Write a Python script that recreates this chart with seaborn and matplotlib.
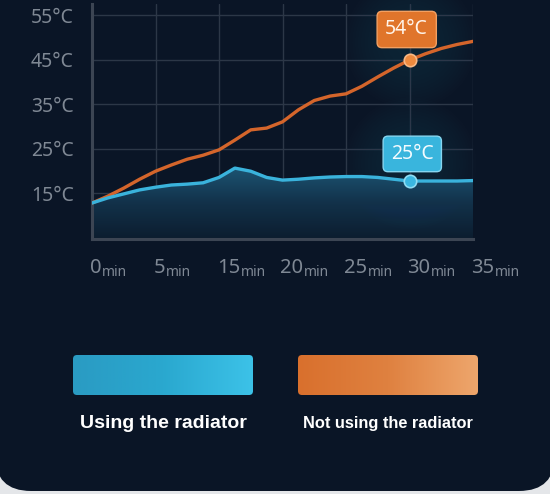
import numpy as np
import pandas as pd
import matplotlib
matplotlib.use("Agg")
import matplotlib.pyplot as plt
import seaborn as sns
from matplotlib.colors import LinearSegmentedColormap
from matplotlib.patches import FancyBboxPatch

# values (y in the chart's own axis units)
tick_labels = ["0", "5", "15", "20", "25", "30", "35"]
ytick_values = [15, 25, 35, 45, 55]
t = np.arange(25) / 4  # sample positions, in tick steps
not_using = [12.75, 14.3, 16.1, 18.1, 19.9, 21.3, 22.6, 23.5, 24.7, 26.9, 29.2, 29.6,
             31.0, 33.7, 35.8, 36.8, 37.3, 39.0, 41.1, 43.1, 44.9, 46.3, 47.5, 48.4, 49.1]
using = [12.75, 13.9, 14.8, 15.7, 16.3, 16.8, 17.0, 17.3, 18.5, 20.6, 19.9, 18.5,
         17.9, 18.1, 18.4, 18.6, 18.7, 18.7, 18.5, 18.1, 17.7, 17.7, 17.7, 17.7, 17.8]
callout_idx = 20  # the 30min point
callout_text = {"not": "54°C", "using": "25°C"}
legend_labels = ["Using the radiator", "Not using the radiator"]

BG = "#0a1526"
ORANGE = "#d4652b"
BLUE = "#3ab3dc"
GRID = "#2c3747"
TICK = "#7f8894"

sns.set_theme(style="dark")
plt.rcParams["font.family"] = ["Noto Sans", "DejaVu Sans"]

df = pd.DataFrame({"t": t, "not_using": not_using, "using": using})

fig = plt.figure(figsize=(5.5, 4.94), dpi=100)
fig.patch.set_facecolor("#e4e6e9")
card = FancyBboxPatch((-0.05, 0.03), 5.6, 6.0, boxstyle="round,pad=0,rounding_size=0.36",
                      transform=fig.dpi_scale_trans, fc=BG, ec="none", zorder=0)
fig.add_artist(card)

ax = fig.add_axes([92 / 550, 1 - 239 / 494, 381 / 550, 235 / 494])
ax.set_facecolor("none")
ylo, yhi = 4.66, 57.5

# gradient fill under the blue curve
cmap = LinearSegmentedColormap.from_list("fill", ["#0c1d2f", "#123149", "#1c5472"])
grad = ax.imshow(np.linspace(0, 1, 256).reshape(-1, 1), extent=[0, 6, ylo, max(using)],
                 origin="lower", aspect="auto", cmap=cmap, zorder=1)
area = ax.fill_between(df["t"], df["using"], ylo, color="none", lw=0)
grad.set_clip_path(area.get_paths()[0], transform=ax.transData)
ax.set_xlim(0, 6)
ax.set_ylim(ylo, yhi)

# soft glow behind the callouts
for y0 in (df["not_using"][callout_idx] + 4, df["using"][callout_idx] + 4):
    for s in np.linspace(9000, 500, 14):
        ax.scatter(callout_idx / 4, y0, s=s, color="#8aa8c8", alpha=0.009, lw=0, zorder=1,
                   clip_on=False)

sns.lineplot(data=df, x="t", y="not_using", ax=ax, color=ORANGE, lw=2.4, zorder=3,
             solid_joinstyle="round", solid_capstyle="round")
sns.lineplot(data=df, x="t", y="using", ax=ax, color=BLUE, lw=2.4, zorder=3,
             solid_joinstyle="round", solid_capstyle="round")

ax.scatter(df["t"][callout_idx], df["not_using"][callout_idx], s=80, color="#ee8a3e",
           edgecolor="#f8b784", lw=1.2, zorder=4)
ax.scatter(df["t"][callout_idx], df["using"][callout_idx], s=80, color="#3ab7e0",
           edgecolor="#8edcf3", lw=1.2, zorder=4)

ax.annotate(callout_text["not"], xy=(df["t"][callout_idx], df["not_using"][callout_idx]),
            xytext=(-2, 22), textcoords="offset points", ha="center", va="center",
            fontsize=14, color="#fff4ea", zorder=5,
            bbox=dict(boxstyle="round,pad=0.42,rounding_size=0.25", fc="#e0752b", ec="#f2a062", lw=1))
ax.annotate(callout_text["using"], xy=(df["t"][callout_idx], df["using"][callout_idx]),
            xytext=(2, 19.5), textcoords="offset points", ha="center", va="center",
            fontsize=14, color="#f2fbff", zorder=5,
            bbox=dict(boxstyle="round,pad=0.4,rounding_size=0.25", fc="#39b5dd", ec="#86d6f0", lw=1))

# axes styling
ax.set_xticks(range(len(tick_labels)))
ax.set_xticklabels([])
ax.set_yticks(ytick_values, labels=[f"{v}°C" for v in ytick_values])
ax.tick_params(axis="y", length=0, pad=13, labelsize=14, labelcolor=TICK)
ax.tick_params(axis="x", length=0)
ax.grid(True, color=GRID, lw=1)
ax.set_xlabel("")
ax.set_ylabel("")
for side in ("top", "right"):
    ax.spines[side].set_visible(False)
for side in ("left", "bottom"):
    ax.spines[side].set_visible(True)
    ax.spines[side].set_color("#3c4553")
    ax.spines[side].set_linewidth(2.2)

for i, lab in enumerate(tick_labels):
    num = ax.annotate(lab, xy=(i, 0), xycoords=("data", "axes fraction"), xytext=(-1.5, -24.5),
                      textcoords="offset points", ha="left", va="baseline", fontsize=14.5,
                      color=TICK, annotation_clip=False)
    ax.annotate("min", xy=(1, 0), xycoords=num, xytext=(0.5, -1.2), textcoords="offset points",
                ha="left", va="bottom", fontsize=10, color=TICK, annotation_clip=False)

# legend swatches
swatches = [(73, ["#2a9bc3", "#2aa8cf", "#3cc2e8"]), (298, ["#d9702d", "#df8140", "#eea66c"])]
for (x0, cols), lab in zip(swatches, legend_labels):
    lax = fig.add_axes([x0 / 550, 1 - 395 / 494, 180 / 550, 40 / 494])
    lax.set_axis_off()
    im = lax.imshow(np.linspace(0, 1, 256).reshape(1, -1), extent=[0, 1, 0, 1], aspect="auto",
                    cmap=LinearSegmentedColormap.from_list("sw", cols))
    clip = FancyBboxPatch((0, 0), 1, 1, boxstyle="round,pad=0,rounding_size=0.022",
                          mutation_aspect=180 / 40, transform=lax.transAxes, fc="none", ec="none")
    lax.add_patch(clip)
    im.set_clip_path(clip)
    lax.set_xlim(0, 1)
    lax.set_ylim(0, 1)

fig.text(163 / 550, 1 - 423 / 494, legend_labels[0], ha="center", va="center", fontsize=14,
         fontweight="bold", color="white", family=["Liberation Sans", "DejaVu Sans"])
fig.text(388 / 550, 1 - 423 / 494, legend_labels[1], ha="center", va="center", fontsize=11.8,
         fontweight="bold", color="white", family=["Liberation Sans", "DejaVu Sans"])

fig.savefig("out.png", dpi=100, facecolor=fig.get_facecolor())
